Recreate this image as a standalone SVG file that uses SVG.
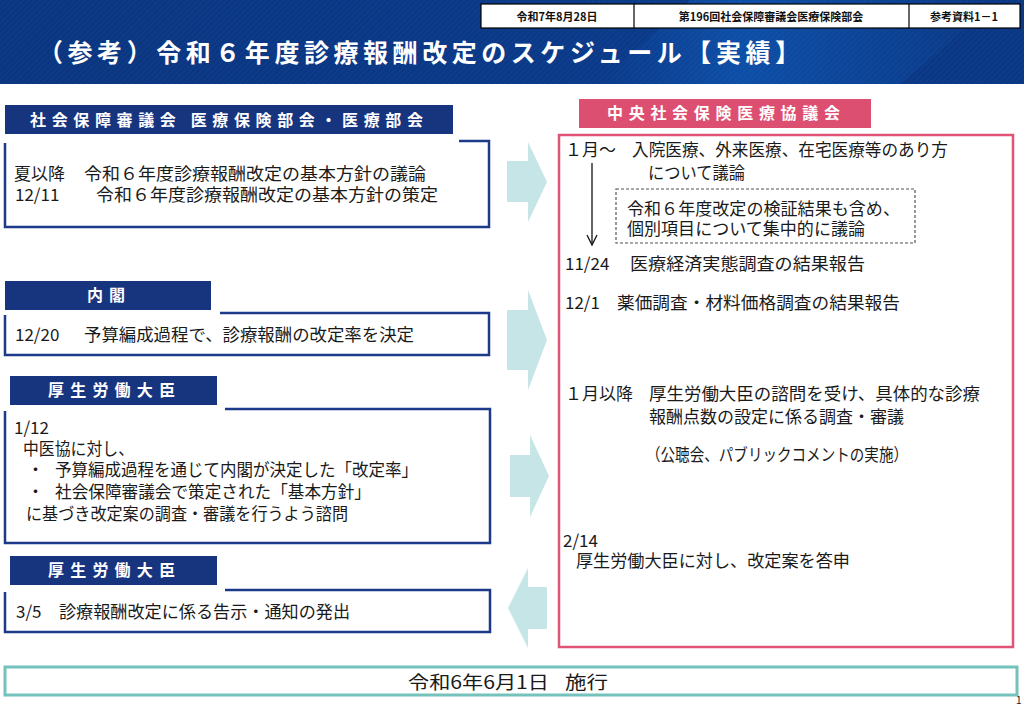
<svg xmlns="http://www.w3.org/2000/svg" width="1024" height="705" viewBox="0 0 1024 705">
<defs>
<linearGradient id="hdr" x1="0" y1="0" x2="1" y2="0">
<stop offset="0" stop-color="#0a3580"/>
<stop offset="0.6" stop-color="#0a3a8a"/>
<stop offset="1" stop-color="#0a3784"/>
</linearGradient>
<linearGradient id="band" x1="0" y1="0" x2="1" y2="0">
<stop offset="0" stop-color="#1060c0" stop-opacity="0"/>
<stop offset="0.35" stop-color="#1060c0" stop-opacity="0.55"/>
<stop offset="1" stop-color="#1060c0" stop-opacity="0"/>
</linearGradient>
<pattern id="stripes" width="4" height="4" patternUnits="userSpaceOnUse" patternTransform="rotate(45)">
<line x1="0" y1="0" x2="0" y2="4" stroke="#ffffff" stroke-opacity="0.06" stroke-width="1"/>
</pattern>
<style>
text{font-family:"Noto Sans CJK JP","Noto Sans",sans-serif;}
.t{font-size:17px;fill:#1a1a1a;}
.lbl{font-size:16px;font-weight:bold;fill:#ffffff;}
.navy{fill:#17347f;}
.nbox{fill:none;stroke:#1d3a8a;stroke-width:2.5;}
.arr{fill:#c6e5e6;}
.hb{font-size:11px;font-weight:bold;fill:#111;}
</style>
</defs>
<!-- header -->
<g id="header">
<rect x="0" y="0" width="1024" height="84" fill="url(#hdr)"/>
<polygon points="600,84 690,0 1000,0 900,84" fill="url(#band)"/>
<rect x="0" y="0" width="1024" height="84" fill="url(#stripes)"/>
<text x="38" y="62" font-size="25" font-weight="bold" fill="#ffffff" textLength="762" lengthAdjust="spacing">（参考）令和６年度診療報酬改定のスケジュール【実績】</text>
</g>
<g id="meta">
<rect x="481" y="4" width="539" height="24" fill="#ffffff" stroke="#000" stroke-width="1.2"/>
<line x1="634" y1="4" x2="634" y2="28" stroke="#000" stroke-width="1.2"/>
<line x1="909" y1="4" x2="909" y2="28" stroke="#000" stroke-width="1.2"/>
<text class="hb" x="557" y="21" text-anchor="middle">令和7年8月28日</text>
<text class="hb" x="771" y="21" text-anchor="middle">第196回社会保障審議会医療保険部会</text>
<text class="hb" x="964" y="21" text-anchor="middle">参考資料1－1</text>
</g>
<!-- left nodes -->
<g id="node-shingikai">
<rect class="navy" x="5" y="105" width="448" height="29"/>
<text class="lbl" x="30" y="126" textLength="393" lengthAdjust="spacing">社会保障審議会 医療保険部会・医療部会</text>
<path class="nbox" d="M459,141 H489 V227 H5 V143"/>
<text class="t" x="14" y="180">夏以降</text>
<text class="t" x="84" y="180" textLength="342" lengthAdjust="spacingAndGlyphs">令和６年度診療報酬改定の基本方針の議論</text>
<text class="t" x="15" y="201">12/11</text>
<text class="t" x="96" y="201" textLength="342" lengthAdjust="spacingAndGlyphs">令和６年度診療報酬改定の基本方針の策定</text>
</g>
<g id="node-naikaku">
<rect class="navy" x="5" y="281" width="206" height="29"/>
<text class="lbl" x="87" y="301" textLength="38" lengthAdjust="spacing">内閣</text>
<path class="nbox" d="M220,313 H489 V355 H5 V315"/>
<text class="t" x="15" y="341">12/20</text>
<text class="t" x="84" y="341" textLength="330" lengthAdjust="spacingAndGlyphs">予算編成過程で、診療報酬の改定率を決定</text>
</g>
<g id="node-daijin1">
<rect class="navy" x="10" y="376" width="207" height="29"/>
<text class="lbl" x="48" y="396" textLength="127" lengthAdjust="spacing">厚生労働大臣</text>
<path class="nbox" d="M225,409 H490 V543 H5 V411"/>
<text class="t" x="14" y="434">1/12</text>
<text class="t" x="23" y="455" textLength="111" lengthAdjust="spacingAndGlyphs">中医協に対し、</text>
<text class="t" x="27" y="476">・</text>
<text class="t" x="55" y="476" textLength="363" lengthAdjust="spacingAndGlyphs">予算編成過程を通じて内閣が決定した「改定率」</text>
<text class="t" x="27" y="498">・</text>
<text class="t" x="55" y="498" textLength="316" lengthAdjust="spacingAndGlyphs">社会保障審議会で策定された「基本方針」</text>
<text class="t" x="26" y="520" textLength="322" lengthAdjust="spacingAndGlyphs">に基づき改定案の調査・審議を行うよう諮問</text>
</g>
<g id="node-daijin2">
<rect class="navy" x="10" y="556" width="207" height="29"/>
<text class="lbl" x="48" y="576" textLength="127" lengthAdjust="spacing">厚生労働大臣</text>
<path class="nbox" d="M225,590 H490 V632 H5 V592"/>
<text class="t" x="16" y="618">3/5</text>
<text class="t" x="59" y="618" textLength="291" lengthAdjust="spacingAndGlyphs">診療報酬改定に係る告示・通知の発出</text>
</g>
<!-- right node -->
<g id="node-chuikyo">
<rect x="559" y="135" width="454" height="512" fill="none" stroke="#e05577" stroke-width="2.5"/>
<rect x="579" y="99" width="292" height="29" fill="#dc4f70"/>
<text class="lbl" x="607" y="119" textLength="233" lengthAdjust="spacing">中央社会保険医療協議会</text>
<text class="t" x="565" y="156">１月～</text>
<text class="t" x="632" y="156" textLength="316" lengthAdjust="spacingAndGlyphs">入院医療、外来医療、在宅医療等のあり方</text>
<text class="t" x="648" y="179" textLength="97" lengthAdjust="spacingAndGlyphs">について議論</text>
<rect x="616" y="189" width="299" height="54" fill="none" stroke="#555" stroke-width="1.2" stroke-dasharray="3,2"/>
<text class="t" x="627" y="215" textLength="273" lengthAdjust="spacingAndGlyphs">令和６年度改定の検証結果も含め、</text>
<text class="t" x="627" y="235" textLength="238" lengthAdjust="spacingAndGlyphs">個別項目について集中的に議論</text>
<text class="t" x="565" y="270">11/24</text>
<text class="t" x="630" y="270" textLength="235" lengthAdjust="spacingAndGlyphs">医療経済実態調査の結果報告</text>
<text class="t" x="565" y="309">12/1</text>
<text class="t" x="617" y="309" textLength="283" lengthAdjust="spacingAndGlyphs">薬価調査・材料価格調査の結果報告</text>
<text class="t" x="565" y="400">１月以降</text>
<text class="t" x="649" y="400" textLength="331" lengthAdjust="spacingAndGlyphs">厚生労働大臣の諮問を受け、具体的な診療</text>
<text class="t" x="649" y="423" textLength="255" lengthAdjust="spacingAndGlyphs">報酬点数の設定に係る調査・審議</text>
<text class="t" x="646" y="461" textLength="262" lengthAdjust="spacingAndGlyphs">（公聴会、パブリックコメントの実施）</text>
<text class="t" x="563" y="547">2/14</text>
<text class="t" x="576" y="567" textLength="274" lengthAdjust="spacingAndGlyphs">厚生労働大臣に対し、改定案を答申</text>
</g>
<!-- bottom -->
<g id="node-sekou">
<rect x="5" y="667" width="1012" height="28" fill="#ffffff" stroke="#74c2bc" stroke-width="3"/>
<text x="408" y="689" font-size="18" fill="#1a1a1a" textLength="141" lengthAdjust="spacingAndGlyphs">令和6年6月1日</text>
<text x="565" y="689" font-size="18" fill="#1a1a1a" textLength="43" lengthAdjust="spacingAndGlyphs">施行</text>
</g>
<text x="1016" y="704" font-size="10" fill="#1a1a1a">1</text>
<!-- connectors -->
<g id="connectors">
<polygon class="arr" points="507,161 528,161 528,142 547,182 528,222 528,202 507,202"/>
<polygon class="arr" points="507,310 528,310 528,290 547,340 528,390 528,370 507,370"/>
<polygon class="arr" points="510,455 530,455 530,435 549,476 530,517 530,497 510,497"/>
<polygon class="arr" points="547,587 528,587 528,568 508,608 528,648 528,629 547,629"/>
<line x1="592" y1="163" x2="592" y2="244" stroke="#111" stroke-width="1.3"/>
<polyline points="587,235 592,245 597,235" fill="none" stroke="#111" stroke-width="1.3"/>
</g>
</svg>
